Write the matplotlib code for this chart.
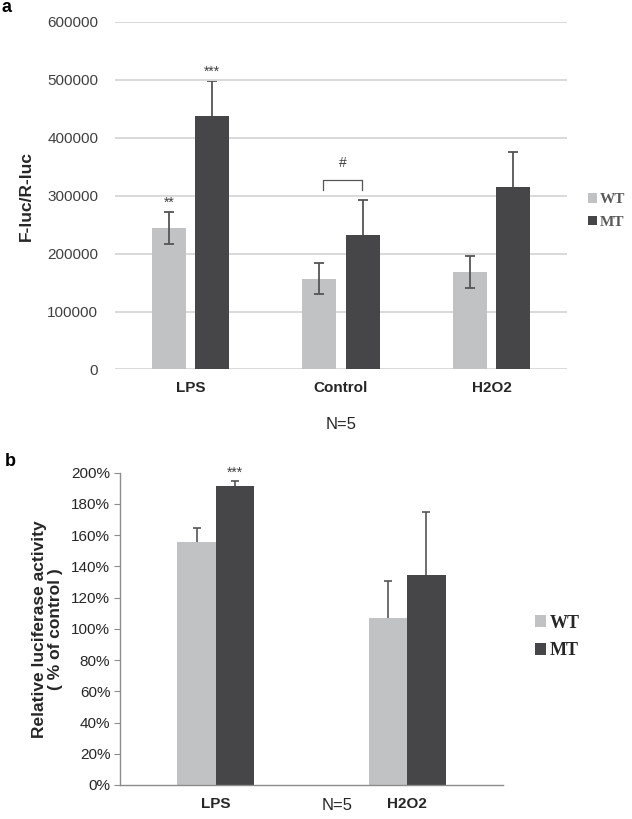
import matplotlib
matplotlib.use("Agg")
import matplotlib.pyplot as plt
import numpy as np

plt.rcParams['font.family'] = ['Liberation Sans', 'DejaVu Sans']

# panel a data
cats_a = ["LPS", "Control", "H2O2"]
wt_a = [245000, 157000, 169000]
wt_a_err = [27500, 27000, 27500]
mt_a = [437000, 233000, 315000]
mt_a_err = [61000, 60000, 60000]
yticks_a = [0, 100000, 200000, 300000, 400000, 500000, 600000]

# panel b data
cats_b = ["LPS", "H2O2"]
wt_b = [1.555, 1.071]
wt_b_err = [0.093, 0.235]
mt_b = [1.913, 1.345]
mt_b_err = [0.034, 0.405]
yticks_b = [0, 0.2, 0.4, 0.6, 0.8, 1.0, 1.2, 1.4, 1.6, 1.8, 2.0]

c_wt = "#c1c2c4"
c_mt = "#464648"
c_err = "#555555"

W, H = 632, 819
fig = plt.figure(figsize=(W / 100, H / 100), dpi=100)

def box(l, t, r, b):
    return [l / W, 1 - b / H, (r - l) / W, (b - t) / H]

# ---------- panel a ----------
ax = fig.add_axes(box(115, 22, 567, 369.5))
x = np.arange(len(cats_a))
bw = 0.226
off = 0.143
ax.bar(x - off, wt_a, bw, color=c_wt, zorder=2, label="WT")
ax.bar(x + off, mt_a, bw, color=c_mt, zorder=2, label="MT")
ax.errorbar(x - off, wt_a, yerr=wt_a_err, fmt="none", ecolor=c_err,
            elinewidth=1.3, capsize=3.5, capthick=1.3, zorder=3)
# MT error bars sit behind the bars, so only the upper half shows
ax.errorbar(x + off, mt_a, yerr=mt_a_err, fmt="none",
            ecolor=c_err, elinewidth=1.3, capsize=3.5, capthick=1.3, zorder=1)
ax.set_xlim(-0.5, 2.5)
ax.set_ylim(0, 600000)
ax.set_yticks(yticks_a)
ax.set_yticklabels([str(v) for v in yticks_a], fontsize=11, color="#404040")
ax.set_xticks(x)
ax.set_xticklabels(cats_a, fontsize=11, fontweight="bold", color="#262626")
ax.tick_params(axis="both", length=0, pad=8)
ax.tick_params(axis="y", pad=12)
ax.grid(axis="y", color="#d9d9d9", linewidth=1.4, zorder=0)
for s in ax.spines.values():
    s.set_visible(False)
ax.set_ylabel("F-luc/R-luc", fontsize=12.5, fontweight="bold", color="#262626", labelpad=10)

# significance marks
ax.text(x[0] - off, wt_a[0] + wt_a_err[0] + 4000, "**", ha="center", va="bottom", fontsize=10, color="#404040")
ax.text(x[0] + off, mt_a[0] + mt_a_err[0] + 4000, "***", ha="center", va="bottom", fontsize=10, color="#404040")
bx0, bx1 = 0.878, 1.141
ax.plot([bx0, bx0, bx1, bx1], [310000, 327000, 327000, 310000],
        color="#555555", linewidth=0.9, zorder=3)
ax.text((bx0 + bx1) / 2, 345000, "#", ha="center", va="bottom", fontsize=10, color="#404040")

fig.text(341 / W, 1 - 424 / H, "N=5", ha="center", va="center", fontsize=12, color="#262626")

leg = fig.legend(handles=ax.patches[:1] + ax.patches[3:4], labels=["WT", "MT"],
                 loc="center left", bbox_to_anchor=(588 / W, 1 - 211 / H), frameon=False,
                 borderpad=0, borderaxespad=0,
                 handlelength=0.6, handleheight=0.6, handletextpad=0.2, labelspacing=0.6,
                 prop={"family": "Liberation Serif", "weight": "bold", "size": 11})
for t in leg.get_texts():
    t.set_color("#595959")

fig.text(2 / W, 1 - 8 / H, "a", fontsize=13, fontweight="bold", va="center", ha="left")

# ---------- panel b ----------
bx = fig.add_axes(box(120, 472.7, 503, 785))
xb = np.arange(len(cats_b))
bwb = 0.2
bx.bar(xb - bwb / 2, wt_b, bwb, color=c_wt, zorder=2)
bx.bar(xb + bwb / 2, mt_b, bwb, color=c_mt, zorder=2)
bx.errorbar(xb - bwb / 2, wt_b, yerr=wt_b_err, fmt="none", ecolor=c_err,
            elinewidth=1.2, capsize=3, capthick=1.2, zorder=1)
bx.errorbar(xb + bwb / 2, mt_b, yerr=mt_b_err, fmt="none", ecolor=c_err,
            elinewidth=1.2, capsize=3, capthick=1.2, zorder=1)
bx.set_xlim(-0.5, 1.5)
bx.set_ylim(0, 2.0)
bx.set_yticks(yticks_b)
bx.set_yticklabels(["%d%%" % round(v * 100) for v in yticks_b], fontsize=11, color="#262626")
bx.set_xticks(xb)
bx.set_xticklabels(cats_b, fontsize=11, fontweight="bold", color="#262626")
bx.tick_params(axis="x", length=0, pad=9)
bx.tick_params(axis="y", length=4, color="#8c8c8c", pad=3)
for k in ["top", "right"]:
    bx.spines[k].set_visible(False)
for k in ["left", "bottom"]:
    bx.spines[k].set_color("#8c8c8c")
    bx.spines[k].set_linewidth(1.0)
    bx.spines[k].set_zorder(4)
bx.set_ylabel("Relative luciferase activity\n( % of control )", fontsize=12.5,
              fontweight="bold", color="#262626", labelpad=6, linespacing=1.1)
bx.text(xb[0] + bwb / 2, mt_b[0] + mt_b_err[0] + 0.01, "***", ha="center", va="bottom",
        fontsize=10, color="#404040")

fig.text(337 / W, 1 - 805 / H, "N=5", ha="center", va="center", fontsize=12, color="#262626")

leg2 = fig.legend(handles=bx.patches[:1] + bx.patches[2:3], labels=["WT", "MT"],
                  loc="center left", bbox_to_anchor=(535 / W, 1 - 637 / H), frameon=False,
                  borderpad=0, borderaxespad=0,
                  handlelength=0.6, handleheight=0.6, handletextpad=0.2, labelspacing=0.6,
                  prop={"family": "Liberation Serif", "weight": "bold", "size": 13})
for t in leg2.get_texts():
    t.set_color("#262626")

fig.text(5 / W, 1 - 461 / H, "b", fontsize=13, fontweight="bold", va="center", ha="left")

fig.savefig("out.png", dpi=100)
